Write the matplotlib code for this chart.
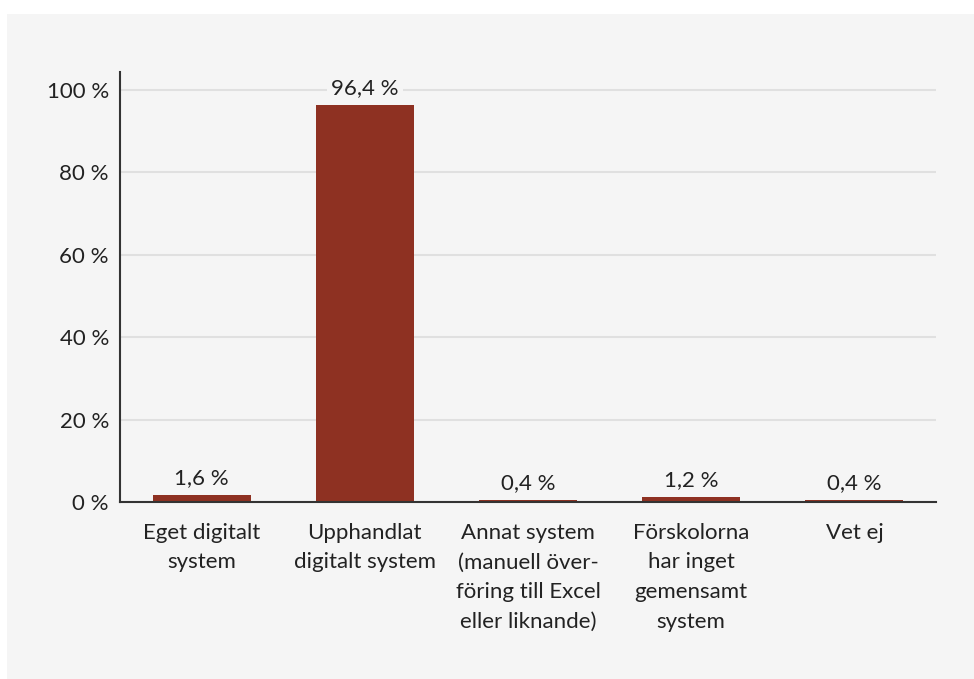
import matplotlib
matplotlib.use("Agg")
import matplotlib.pyplot as plt
from matplotlib.patches import Rectangle

categories = ["Eget digitalt\nsystem", "Upphandlat\ndigitalt system",
              "Annat system\n(manuell över-\nföring till Excel\neller liknande)",
              "Förskolorna\nhar inget\ngemensamt\nsystem", "Vet ej"]
values = [1.6, 96.4, 0.4, 1.2, 0.4]
yticks = [0, 20, 40, 60, 80, 100]
ytick_labels = ["0 %", "20 %", "40 %", "60 %", "80 %", "100 %"]

plt.rcParams['font.family'] = ['Lato', 'DejaVu Sans']
W, H = 974, 679
fig = plt.figure(figsize=(W / 100, H / 100), dpi=100, facecolor="white")
panel_color = "#f5f5f5"
fig.add_artist(Rectangle((7 / W, 0), 1 - 7 / W, (H - 14) / H,
                         transform=fig.transFigure, facecolor=panel_color,
                         edgecolor="none", zorder=-10))

ax = fig.add_axes([120 / W, (H - 502) / H, (936 - 120) / W, (502 - 72) / H])
ax.set_zorder(1)
ax.set_facecolor("none")
x = list(range(len(values)))
ax.bar(x, values, width=0.6, color="#8e3122", zorder=3)
ax.set_xlim(-0.5, len(values) - 0.5)
ax.set_ylim(0, 104.4)
ax.set_yticks(yticks)
ax.set_yticklabels(ytick_labels, fontsize=16, color="#222222")
ax.set_xticks(x)
ax.set_xticklabels(categories, fontsize=16, color="#222222", linespacing=1.6,
                   va="top")
ax.tick_params(axis="y", length=0, pad=8)
ax.tick_params(axis="x", length=0, pad=15)
ax.grid(axis="y", color="#e0e0e0", linewidth=1.5, zorder=1)
ax.set_axisbelow(True)
for s in ["top", "right"]:
    ax.spines[s].set_visible(False)
for s in ["left", "bottom"]:
    ax.spines[s].set_color("#333333")
    ax.spines[s].set_linewidth(1.5)
    ax.spines[s].set_zorder(4)

for xi, v in zip(x, values):
    ax.annotate(f"{v:.1f}".replace(".", ",") + " %", (xi, v),
                xytext=(0, 5), textcoords="offset points", ha="center",
                va="bottom", fontsize=16, color="#222222", zorder=5,
                bbox=dict(facecolor=panel_color, edgecolor="none", pad=3))

fig.savefig("out.png", dpi=100, facecolor="white")
